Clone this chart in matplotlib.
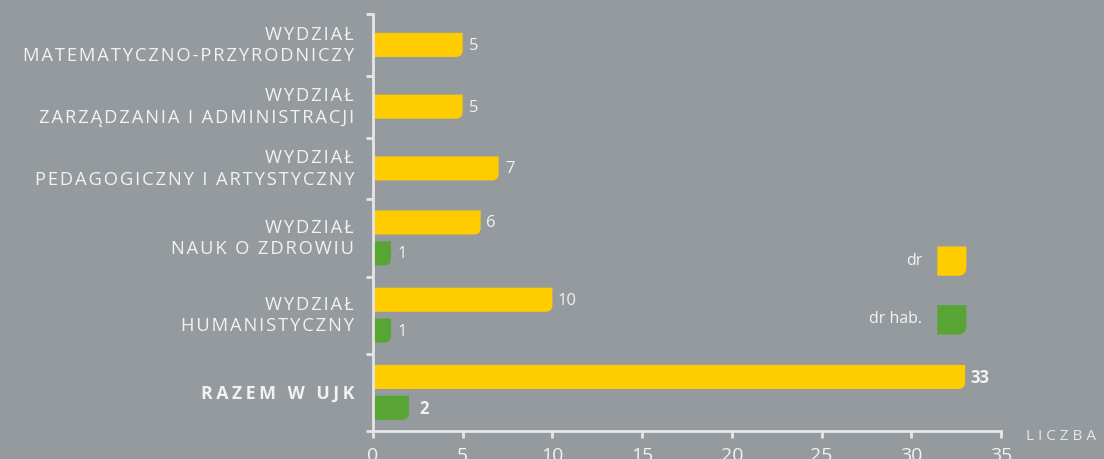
import matplotlib.pyplot as plt
from matplotlib.path import Path
from matplotlib.patches import PathPatch

# data
categories = [
    "WYDZIAŁ\nMATEMATYCZNO-PRZYRODNICZY",
    "WYDZIAŁ\nZARZĄDZANIA I ADMINISTRACJI",
    "WYDZIAŁ\nPEDAGOGICZNY I ARTYSTYCZNY",
    "WYDZIAŁ\nNAUK O ZDROWIU",
    "WYDZIAŁ\nHUMANISTYCZNY",
    "RAZEM W UJK",
]
dr = [5, 5, 7, 6, 10, 33]
dr_hab = [None, None, None, 1, 1, 2]
series_names = ["dr", "dr hab."]
xticks = [0, 5, 10, 15, 20, 25, 30, 35]

bg = "#949a9d"
yellow = "#ffcc00"
green = "#58a535"
fg = "#f2f2f2"
axis_col = "#e6e6e6"

plt.rcParams["font.family"] = ["Open Sans", "DejaVu Sans"]


def track(s, sp="\u200a"):
    # fake letter spacing
    return "\n".join(sp.join(line) for line in s.split("\n"))


fig = plt.figure(figsize=(11.04, 4.60), dpi=100, facecolor=bg)
ax = fig.add_axes([373 / 1104, 1 - 432 / 460, 628 / 1104, 417 / 460])
ax.set_facecolor(bg)


def rbar(ax, x0, y_center, width, height, color, rx, ry):
    # bar with rounded lower-right corner (y axis inverted -> larger y is lower)
    yt = y_center - height / 2
    yb = y_center + height / 2
    x1 = x0 + width
    verts = [(x0, yt), (x1, yt), (x1, yb - ry), (x1, yb), (x1 - rx, yb),
             (x0, yb), (x0, yt)]
    codes = [Path.MOVETO, Path.LINETO, Path.LINETO, Path.CURVE3, Path.CURVE3,
             Path.LINETO, Path.CLOSEPOLY]
    ax.add_patch(PathPatch(Path(verts, codes), facecolor=color,
                           edgecolor="none", zorder=2))


bar_h = 0.78
rx, ry = 0.38, 0.22
pos = 0.0
bounds = [0.0]
label_y = []
for i, cat in enumerate(categories):
    n = 1 if dr_hab[i] is None else 2
    gh = 2.0 if n == 1 else 2.5
    c = pos + gh / 2
    label_y.append(c)
    bold = i == len(categories) - 1
    fw = "bold" if bold else "normal"
    fs = 12
    if n == 1:
        rbar(ax, 0, c, dr[i], bar_h, yellow, rx, ry)
        ax.text(dr[i] + 0.35, c, str(dr[i]), va="center", ha="left",
                color=fg, fontsize=fs, fontweight=fw)
    else:
        y1, y2 = c - 0.5, c + 0.5
        rbar(ax, 0, y1, dr[i], bar_h, yellow, rx, ry)
        rbar(ax, 0, y2, dr_hab[i], bar_h, green, rx, ry)
        ax.text(dr[i] + 0.3, y1, str(dr[i]), va="center", ha="left",
                color=fg, fontsize=fs, fontweight=fw)
        ax.text(dr_hab[i] + 0.35 + (0.25 if bold else 0), y2, str(dr_hab[i]),
                va="center", ha="left", color=fg, fontsize=fs, fontweight=fw)
    pos += gh
    bounds.append(pos)

ax.set_xlim(0, 35)
ax.set_ylim(pos, 0)

# category labels
for i, cat in enumerate(categories):
    bold = i == len(categories) - 1
    if bold:
        ax.text(-1.05, label_y[i], track(cat, "\u2009"), ha="right",
                va="center", color=fg, fontsize=12.8, fontweight="bold")
    else:
        ax.text(-1.05, label_y[i] - 0.02, track(cat), ha="right", va="center",
                color=fg, fontsize=13.2, linespacing=1.25)

ax.set_yticks(bounds)
ax.set_yticklabels([])
ax.set_xticks(xticks)
ax.set_xticklabels([str(t) for t in xticks])
ax.tick_params(axis="x", direction="out", length=5, width=2, colors=axis_col,
               labelsize=14, pad=6, labelcolor=fg)
ax.tick_params(axis="y", direction="out", length=5, width=2, colors=axis_col)

for s in ["top", "right"]:
    ax.spines[s].set_visible(False)
for s in ["left", "bottom"]:
    ax.spines[s].set_color(axis_col)
    ax.spines[s].set_linewidth(2)

ax.text(36.4, pos + 0.15, "L I C Z B A", ha="left", va="center",
        color=axis_col, fontsize=11)

# legend
for name, yy, col in zip(series_names, [8.0, 9.9], [yellow, green]):
    rbar(ax, 31.45, yy, 1.62, 0.95, col, 0.45, 0.28)
    ax.text(30.6, yy - 0.05, name, ha="right", va="center", color=fg,
            fontsize=11.5)

fig.savefig("out.png", dpi=100, facecolor=bg)
